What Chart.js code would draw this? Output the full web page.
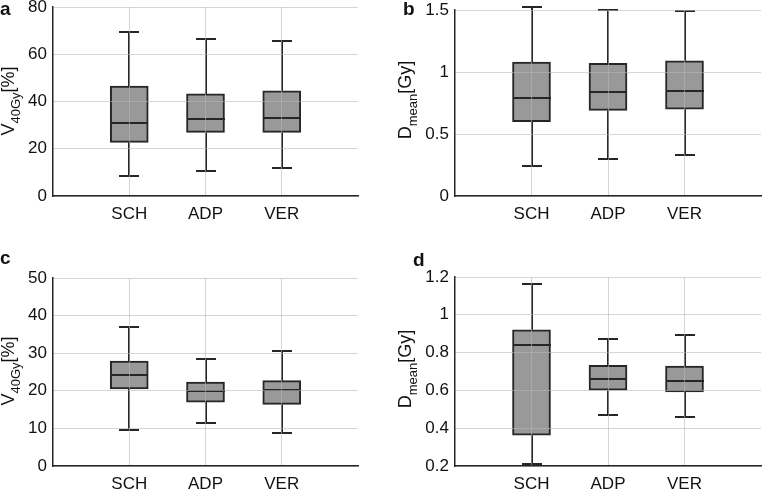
<!DOCTYPE html>
<html>
<head>
<meta charset="utf-8">
<script src="https://cdn.jsdelivr.net/npm/chart.js@4.4.1/dist/chart.umd.min.js"></script>
<style>
  body { margin: 0; background: #fff; }
  #wrap { position: relative; width: 762px; height: 492px; overflow: hidden;
          font-family: 'Liberation Sans', Arial, sans-serif; color: #111; }
  canvas { position: absolute; }
  .letter { position: absolute; font-weight: bold; font-size: 19px; line-height: 1; z-index: 2; }
  .ytitle { position: absolute; font-size: 18px; line-height: 18px; white-space: nowrap; z-index: 2;
            transform: translate(-50%, -50%) rotate(-90deg); }
  .ytitle .sub { font-size: 13px; position: relative; top: 6px; }
</style>
</head>
<body>
<div id="wrap">
  <canvas id="cA" width="381" height="246" style="left:0;top:0"></canvas>
  <canvas id="cB" width="381" height="246" style="left:381px;top:0"></canvas>
  <canvas id="cC" width="381" height="246" style="left:0;top:246px"></canvas>
  <canvas id="cD" width="381" height="246" style="left:381px;top:246px"></canvas>

  <div class="letter" style="left:0;top:-1px">a</div>
  <div class="letter" style="left:403px;top:-1px">b</div>
  <div class="letter" style="left:0;top:248px">c</div>
  <div class="letter" style="left:413px;top:250px">d</div>

  <div class="ytitle" style="left:9px;top:101px">V<span class="sub">40Gy</span>[%]</div>
  <div class="ytitle" style="left:406px;top:100px">D<span class="sub">mean</span>[Gy]</div>
  <div class="ytitle" style="left:9px;top:371px">V<span class="sub">40Gy</span>[%]</div>
  <div class="ytitle" style="left:406px;top:369px">D<span class="sub">mean</span>[Gy]</div>
</div>

<script>
const categories = ['SCH', 'ADP', 'VER'];

// panel a: V40Gy, first group
const aLow  = [8.5, 10.4, 12.0];
const aQ1   = [22.7, 26.9, 26.9];
const aMed  = [31.0, 32.5, 33.1];
const aQ3   = [46.5, 43.2, 44.5];
const aHigh = [69.3, 66.5, 65.6];
const aTicks = [0, 20, 40, 60, 80];

// panel b: Dmean, first group
const bLow  = [0.24, 0.30, 0.33];
const bQ1   = [0.60, 0.69, 0.70];
const bMed  = [0.79, 0.84, 0.85];
const bQ3   = [1.08, 1.07, 1.09];
const bHigh = [1.527, 1.50, 1.49];
const bTicks = [0, 0.5, 1, 1.5];

// panel c: V40Gy, second group
const cLow  = [9.5, 11.5, 8.9];
const cQ1   = [20.5, 17.0, 16.4];
const cMed  = [24.1, 20.0, 20.1];
const cQ3   = [27.9, 22.3, 22.7];
const cHigh = [37.1, 28.5, 30.5];
const cTicks = [0, 10, 20, 30, 40, 50];

// panel d: Dmean, second group
const dLow  = [0.21, 0.47, 0.46];
const dQ1   = [0.363, 0.601, 0.592];
const dMed  = [0.841, 0.660, 0.650];
const dQ3   = [0.921, 0.733, 0.729];
const dHigh = [1.161, 0.870, 0.891];
const dTicks = [0.2, 0.4, 0.6, 0.8, 1, 1.2];

const FONT = "'Liberation Sans', Arial, sans-serif";
const INK = '#262626';
const GRID = 'rgba(183,183,183,0.58)';

// whiskers, caps and median drawn on top of the floating bars
const whiskerPlugin = {
  id: 'whiskers',
  afterDatasetsDraw(chart) {
    const ds = chart.data.datasets[0];
    const xs = chart.scales.x, ys = chart.scales.y;
    const ctx = chart.ctx;
    ctx.save();
    ctx.strokeStyle = INK;
    ctx.lineWidth = 2;
    ds.low.forEach((lo, i) => {
      const px = Math.round(xs.getPixelForValue(i + 1));
      const yLo = ys.getPixelForValue(lo);
      const yQ1 = ys.getPixelForValue(ds.q1[i]);
      const yQ3 = ys.getPixelForValue(ds.q3[i]);
      const yHi = ys.getPixelForValue(ds.high[i]);
      const yMed = Math.round(ys.getPixelForValue(ds.med[i]));
      ctx.beginPath();
      ctx.moveTo(px, yQ3); ctx.lineTo(px, yHi);
      ctx.moveTo(px, yQ1); ctx.lineTo(px, yLo);
      ctx.moveTo(px - 10, Math.round(yHi)); ctx.lineTo(px + 10, Math.round(yHi));
      ctx.moveTo(px - 10, Math.round(yLo)); ctx.lineTo(px + 10, Math.round(yLo));
      ctx.moveTo(px - 19, yMed); ctx.lineTo(px + 19, yMed);
      ctx.stroke();
    });
    ctx.restore();
  }
};

function makePanel(id, area, low, q1, med, q3, high, ticks) {
  const W = 381, H = 246;
  new Chart(document.getElementById(id), {
    type: 'bar',
    data: {
      labels: ['', ...categories, ''],
      datasets: [{
        data: [null, ...q1.map((v, i) => [v, q3[i]]), null],
        low: low, q1: q1, med: med, q3: q3, high: high,
        backgroundColor: '#999999',
        borderColor: INK,
        borderWidth: 2,
        borderSkipped: false,
        barThickness: 38
      }]
    },
    options: {
      responsive: false,
      animation: false,
      events: [],
      layout: { padding: { top: area.t, right: W - area.r, left: 0, bottom: 0 } },
      plugins: { legend: { display: false }, tooltip: { enabled: false } },
      scales: {
        x: {
          type: 'category',
          offset: false,
          grid: {
            offset: false,
            drawTicks: false,
            z: 1,
            lineWidth: 1,
            color: (c) => (c.index === 0 || c.index === 4) ? 'transparent' : GRID
          },
          border: { display: true, color: INK, width: 1.5, z: 2 },
          ticks: { autoSkip: false, maxRotation: 0, padding: 8, color: '#111',
                   font: { family: FONT, size: 17 } },
          afterFit: (s) => { s.height = H - area.b; s.paddingLeft = 0; s.paddingRight = 0; }
        },
        y: {
          min: ticks[0],
          max: ticks[ticks.length - 1],
          afterBuildTicks: (s) => { s.ticks = ticks.map(v => ({ value: v })); },
          grid: { drawTicks: false, z: 1, lineWidth: 1, color: GRID },
          border: { display: true, color: INK, width: 1.5, z: 2 },
          ticks: { padding: 6, color: '#111', font: { family: FONT, size: 17 },
                   callback: (v) => String(+v.toFixed(2)) },
          afterFit: (s) => { s.width = area.l; s.paddingTop = 0; s.paddingBottom = 0; }
        }
      }
    },
    plugins: [whiskerPlugin]
  });
}

makePanel('cA', { l: 53, t: 7,  r: 358, b: 196 }, aLow, aQ1, aMed, aQ3, aHigh, aTicks);
makePanel('cB', { l: 74, t: 10, r: 380, b: 196 }, bLow, bQ1, bMed, bQ3, bHigh, bTicks);
makePanel('cC', { l: 53, t: 32, r: 358, b: 220 }, cLow, cQ1, cMed, cQ3, cHigh, cTicks);
makePanel('cD', { l: 74, t: 31, r: 380, b: 220 }, dLow, dQ1, dMed, dQ3, dHigh, dTicks);
</script>
</body>
</html>
